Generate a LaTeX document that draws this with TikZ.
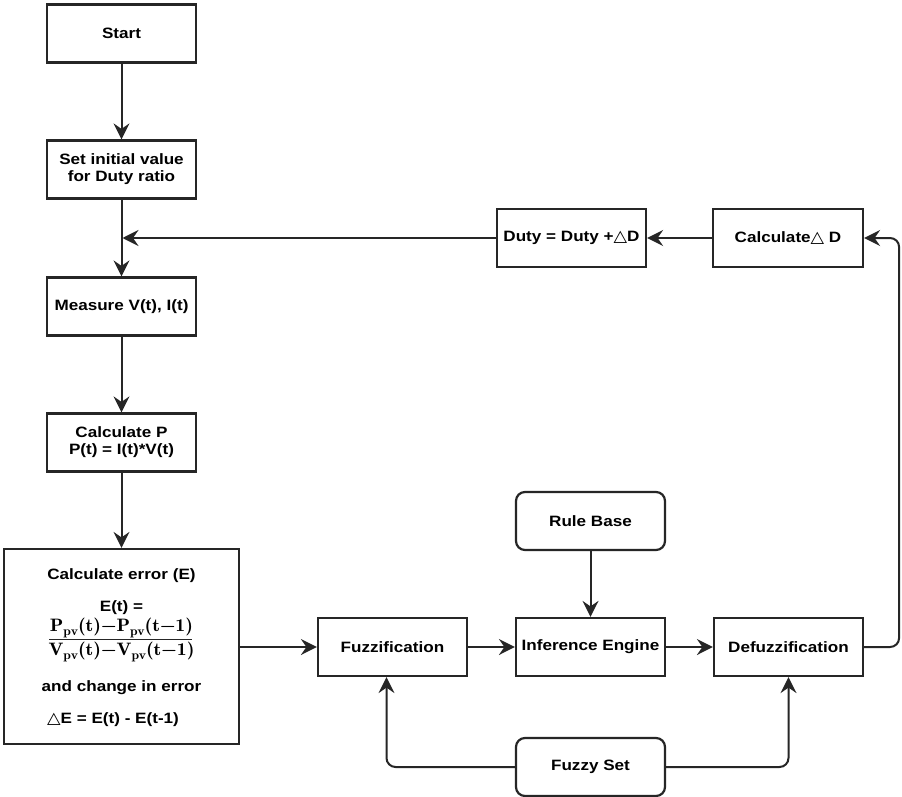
\documentclass[tikz,border=0pt]{standalone}
\usepackage{fontspec}
\setmainfont{Liberation Sans}[FakeStretch=1.14]
\newfontfamily\symfont{DejaVu Sans}[FakeStretch=1.1]
\usetikzlibrary{arrows.meta,calc}
\newcommand{\mytri}{{\symfont\fontsize{16}{17}\selectfont △}}
\newcommand{\lmb}{\fontfamily{lmr}\fontseries{b}\fontsize{18}{20}\selectfont}
\newcommand{\pvsub}{\raisebox{-3.5pt}{\fontsize{12.5}{12}\selectfont pv}}
\newcommand{\sfr}[1]{\scalebox{1.1}[1]{#1}}
\begin{document}
\begin{tikzpicture}[x=1pt,y=-1pt,
  font=\fontsize{15}{17}\selectfont\bfseries,
  box/.style={draw=black!85,line width=2.2pt,minimum width=149pt,minimum height=58pt,inner sep=2pt,align=center},
  rbox/.style={box,rounded corners=9pt},
  arr/.style={draw=black!85,line width=2pt,-{Stealth[length=16pt,width=16pt,inset=5.5pt]}},
  txt/.style={inner sep=0pt,align=center}]
\fill[white] (0,0) rectangle (902,797);
\useasboundingbox (0,0) rectangle (902,797);

\node[box] (start) at (121.5,33.5) {Start};
\node[box] (init) at (121.5,169.5) {Set initial value\\for Duty ratio};
\node[box] (meas) at (121.5,306.5) {Measure V(t), I(t)};
\node[box] (calcp) at (121.5,442.5) {Calculate P\\P(t) = I(t)*V(t)};
\node[box,minimum width=235pt,minimum height=195pt] (err) at (121.5,646.5) {};
\node[txt] (l1) at (121.5,576) {Calculate error (E)};
\node[txt] (l2) at (121.5,608) {E(t) =};
\node[txt,font=\lmb] (num) at (121.5,628) {\sfr{P\pvsub(t)−P\pvsub(t−1)}};
\node[txt,font=\lmb] (den) at (121.5,652) {\sfr{V\pvsub(t)−V\pvsub(t−1)}};
\draw[line width=1.3pt,black!85] (49,639.5) -- (192,639.5);
\node[txt] (l4) at (121.5,688) {and change in error};
\node[txt] (l5) at (113,720) {\mytri E = E(t) - E(t-1)};

\node[box] (fuzz) at (392.5,647) {Fuzzification};
\node[box] (inf) at (590.5,647) {Inference Engine};
\node[box] (defuzz) at (788.5,647) {Defuzzification};
\node[rbox] (rule) at (590.5,521) {Rule Base};
\node[rbox] (fset) at (590.5,767) {Fuzzy Set};
\node[box] (duty) at (571.5,238) {Duty = Duty +\mytri D};
\node[box,minimum width=150pt] (calcd) at (788,238) {Calculate\mytri\ D};

\draw[arr] (start) -- (init);
\draw[arr] (init) -- (meas);
\draw[arr] (meas) -- (calcp);
\draw[arr] (calcp) -- (err);
\draw[arr] (duty.west) -- ($(init.south |- duty.west)+(1,0)$);
\draw[arr] (err.east |- fuzz.west) -- (fuzz.west);
\draw[arr] (fuzz) -- (inf);
\draw[arr] (inf) -- (defuzz);
\draw[arr] (rule) -- (inf);
\draw[arr] (calcd) -- (duty);
\draw[arr,rounded corners=9pt] (defuzz.east) -- ++(35,0) |- (calcd.east);
\draw[arr,rounded corners=9pt] (fset.west) -| ([xshift=-6pt]fuzz.south);
\draw[arr,rounded corners=9pt] (fset.east) -| (defuzz.south);
\end{tikzpicture}
\end{document}
